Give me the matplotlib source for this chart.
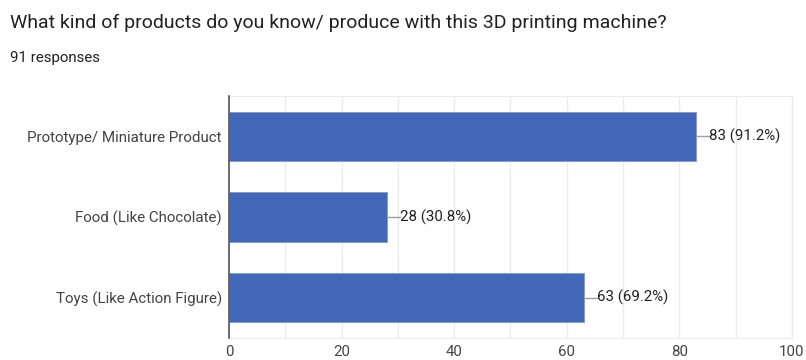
import numpy as np
import matplotlib.pyplot as plt
from matplotlib.ticker import MultipleLocator

plt.rcParams['font.family'] = ['Roboto', 'DejaVu Sans']

categories = ['Prototype/ Miniature Product', 'Food (Like Chocolate)', 'Toys (Like Action Figure)']
counts = [83, 28, 63]
percents = ['91.2%', '30.8%', '69.2%']
total = 91

fig = plt.figure(figsize=(8.06, 3.6), dpi=100)
ax = fig.add_axes([0.284, 0.061, 0.6986, 0.672])

y = np.arange(len(categories))
ax.barh(y, counts, height=0.61, color='#4368ba', edgecolor='#7f9ad4', linewidth=0.6, zorder=3)

for yi, c, p in zip(y, counts, percents):
    ax.plot([c, c + 2.3], [yi, yi], color='#9e9e9e', lw=1, zorder=3)
    ax.text(c + 2.3, yi, f'{c} ({p})', va='center', ha='left', fontsize=10.8, color='#222222')

ax.set_xlim(0, 100)
ax.set_ylim(2.5, -0.5)
ax.set_yticks(y)
ax.set_yticklabels(categories, fontsize=10.9, color='#444444')
ax.xaxis.set_major_locator(MultipleLocator(20))
ax.xaxis.set_minor_locator(MultipleLocator(10))
ax.tick_params(axis='x', which='both', length=0, labelsize=10.8, labelcolor='#444444', pad=5)
ax.tick_params(axis='y', length=0, pad=5)
ax.grid(axis='x', which='both', color='#ebebeb', lw=1, zorder=0)

for s in ['top', 'right', 'bottom']:
    ax.spines[s].set_color('#ebebeb')
ax.spines['left'].set_color('#555555')
ax.spines['left'].set_linewidth(1.2)
ax.spines['left'].set_zorder(4)

fig.text(0.012, 0.937, 'What kind of products do you know/ produce with this 3D printing machine?',
         fontsize=14, color='#202124', va='center')
fig.text(0.012, 0.838, f'{total} responses', fontsize=10.8, color='#202124', va='center')

fig.savefig('out.png', dpi=100)
